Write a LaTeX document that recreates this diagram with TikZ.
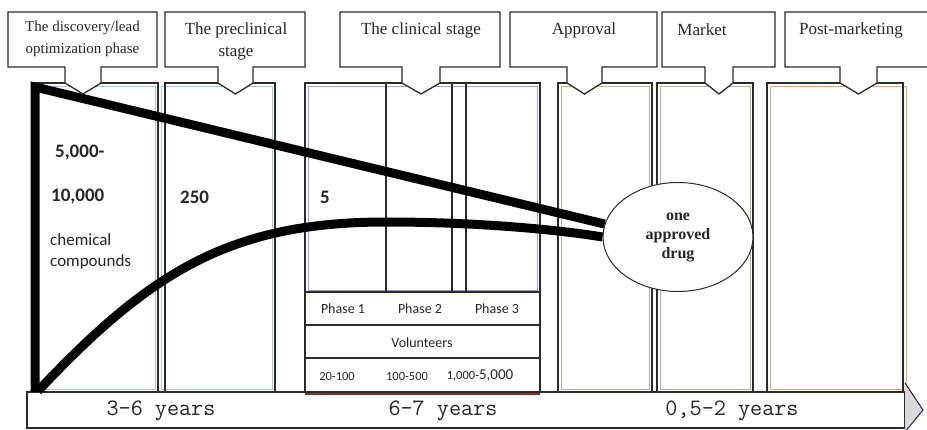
\documentclass[tikz,border=0pt]{standalone}
\usepackage{fontspec}
\setmainfont{Liberation Serif}
\newfontfamily\calfont{Carlito}
\usetikzlibrary{shapes.geometric}
\definecolor{edge}{HTML}{2B2B2B}
\definecolor{lblue}{HTML}{A9C6D6}
\definecolor{lpurp}{HTML}{A69BD0}
\definecolor{lgreen}{HTML}{A7BC94}
\definecolor{lorange}{HTML}{E9A77C}
\definecolor{dred}{HTML}{8E2A2A}
\definecolor{arrowfill}{HTML}{DADADA}
\definecolor{arrowedge}{HTML}{1F2A44}
\newcommand\mycallout[5]{%
  \draw[callbox] (#1,12) -- (#2,12) -- (#2,67) -- (#4,67) -- (#4,83) -- (#5,94) -- (#3,83) -- (#3,67) -- (#1,67) -- cycle;}
\begin{document}
\begin{tikzpicture}[x=1pt,y=-1pt,
  colbox/.style={draw=edge,line width=1.3pt},
  innerline/.style={line width=0.8pt},
  callbox/.style={draw=edge,fill=white,line width=1.3pt,line join=miter},
  ctext/.style={font=\fontsize{17}{22}\selectfont,text=black!85,align=center,inner sep=0},
  num/.style={font=\calfont\bfseries\fontsize{19}{22}\selectfont,text=black!85,anchor=west,inner sep=0},
  small/.style={font=\calfont\fontsize{17}{20}\selectfont,text=black!85,anchor=west,inner sep=0},
  tab/.style={font=\calfont\fontsize{14}{16}\selectfont,text=black!85,inner sep=0},
  tabnum/.style={font=\calfont\fontsize{12.5}{14}\selectfont,text=black!85,inner sep=0},
  years/.style={font=\ttfamily\fontsize{23.5}{24}\selectfont,text=black!85,inner sep=0},
  heavy/.style={line width=9pt,black,line join=miter}
]
\useasboundingbox (0,0) rectangle (927,430);
\fill[white] (0,0) rectangle (927,430);

% columns
\draw[innerline,lblue] (38,86) rectangle (155,389);
\draw[colbox] (35,83) rectangle (158,392);
\draw[innerline,lblue] (161.5,86) rectangle (272,389);
\draw[colbox] (165,83) rectangle (275,392);
\draw[innerline,lpurp] (308,86) rectangle (537,290);
\draw[colbox] (305,83) rectangle (540,292);
\draw[colbox] (386,83) -- (386,292);
\draw[colbox] (452,83) -- (452,292);
\draw[colbox] (466,83) -- (466,292);
\draw[innerline,lgreen] (561,86) rectangle (649,389);
\draw[colbox] (558,83) rectangle (652,392);
\draw[innerline,lgreen] (660,86) rectangle (750,389);
\draw[colbox] (657,83) rectangle (753,392);
\draw[innerline,lorange] (770,86) rectangle (906,389);
\draw[colbox] (767,83) rectangle (903,392);

% clinical table
\draw[colbox] (305,292) rectangle (540,392);
\draw[colbox] (305,325) -- (540,325);
\draw[colbox] (305,358) -- (540,358);
\node[tab] (p1) at (343,309) {Phase 1};
\node[tab] (p2) at (420,309) {Phase 2};
\node[tab] (p3) at (497,309) {Phase 3};
\node[tab] (vol) at (422,343) {Volunteers};
\node[tabnum] (v1) at (337,376) {20-100};
\node[tabnum] (v2) at (407,376) {100-500};
\node[tabnum,anchor=base] (v3) at (480,380) {1,000-{\fontsize{15}{16}\selectfont 5,000}};

% column texts
\node[num] (n1) at (55,153) {5,000-};
\node[num] (n2) at (51,197) {10,000};
\node[small] (c1) at (50,240) {chemical};
\node[small] (c2) at (50,262) {compounds};
\node[num] (n3) at (180,197) {250};
\node[num] (n4) at (320,197) {5};

% timeline bar
\draw[draw=edge,fill=white,line width=1.2pt] (27,392) rectangle (905,428);
\draw[dred,line width=1.5pt] (305,394) -- (540,394);
\draw[fill=arrowfill,draw=arrowedge,line width=1pt,line join=miter] (905,383) -- (923,410) -- (905,432);
\node[years] (y1) at (161,411) {3-6 years};
\node[years] (y2) at (443,411) {6-7 years};
\node[years] (y3) at (732,411) {0,5-2 years};

% funnel lines and result
\node[draw=edge,line width=1pt,fill=white,ellipse,minimum width=150pt,minimum height=109pt,inner sep=0,font=\bfseries\fontsize{16}{19}\selectfont,align=center,text=black!85] (drug) at (678,237) {one\\approved\\drug};
\coordinate (tl) at (35,87);
\coordinate (bl) at (35,392);
\coordinate (cs) at (38,391);
\coordinate (plateau) at (386,222);
\draw[heavy] (bl) -- (tl) -- (drug.170);
\draw[heavy] (cs) .. controls (150,272) and (230,222) .. (plateau) .. controls (480,222) and (560,230) .. (drug.west);

% callouts
\mycallout{8}{157}{65}{101}{83}
\mycallout{165}{305}{218}{253}{235.5}
\mycallout{340}{500}{402}{440}{421}
\mycallout{510}{657}{567}{602}{584.5}
\mycallout{662}{775}{705}{733}{719}
\mycallout{785}{935}{840}{877}{858.5}
\node[ctext,font=\fontsize{15}{22}\selectfont] (t1) at (82.5,39) {The discovery/lead\\optimization phase};
\node[ctext] (t2) at (236,41) {The preclinical\\stage};
\node[ctext] (t3) at (421,30) {The clinical stage};
\node[ctext] (t4) at (584,30) {Approval};
\node[ctext] (t5) at (702,30) {Market};
\node[ctext] (t6) at (851,30) {Post-marketing};
\end{tikzpicture}
\end{document}
